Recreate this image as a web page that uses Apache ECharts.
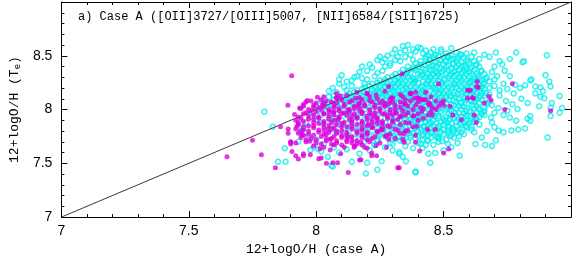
<!DOCTYPE html>
<html><head><meta charset="utf-8">
<script src="https://cdn.jsdelivr.net/npm/echarts@6/dist/echarts.min.js"></script>
<style>html,body{margin:0;padding:0;background:#fff}#c{width:574px;height:261px}</style>
</head><body><div id="c"></div>
<script>
// Axis ticks / labels
const xTicks = [7, 7.5, 8, 8.5];
const yTicks = [7, 7.5, 8, 8.5];
const titleText = 'a) Case A ([OII]3727/[OIII]5007, [NII]6584/[SII]6725)';
const xName = '12+logO/H (case A)';
const yName = '12+logO/H (T{sub|e})';
const oneToOne = [[7, 7], [9, 9]];

// Cyan open circles: dense core
const cyanCore = [
[8.45,8.53],[8.47,8.51],[8.49,8.54],[8.51,8.52],[8.53,8.50],[8.55,8.53],[8.57,8.51],[8.59,8.52],
[8.43,8.49],[8.46,8.48],[8.48,8.50],[8.50,8.48],[8.52,8.49],[8.54,8.47],[8.56,8.50],[8.58,8.48],[8.61,8.49],
[8.41,8.45],[8.43,8.47],[8.45,8.46],[8.47,8.44],[8.49,8.46],[8.51,8.45],[8.53,8.47],[8.55,8.45],[8.57,8.44],[8.59,8.46],[8.62,8.45],
[8.39,8.43],[8.41,8.42],[8.44,8.43],[8.46,8.41],[8.48,8.43],[8.50,8.42],[8.52,8.41],[8.54,8.43],[8.56,8.42],[8.58,8.41],[8.60,8.43],[8.63,8.42],
[8.36,8.40],[8.38,8.39],[8.40,8.40],[8.42,8.38],[8.45,8.40],[8.47,8.39],[8.49,8.38],[8.51,8.40],[8.53,8.38],[8.55,8.39],[8.57,8.40],[8.59,8.38],[8.61,8.39],[8.64,8.40],
[8.34,8.37],[8.36,8.36],[8.39,8.37],[8.41,8.35],[8.43,8.37],[8.45,8.36],[8.47,8.35],[8.50,8.37],[8.52,8.36],[8.54,8.35],[8.56,8.37],[8.58,8.36],[8.60,8.35],[8.62,8.37],[8.65,8.36],
[8.31,8.33],[8.33,8.34],[8.35,8.32],[8.37,8.34],[8.40,8.33],[8.42,8.32],[8.44,8.34],[8.46,8.33],[8.48,8.32],[8.51,8.34],[8.53,8.33],[8.55,8.32],[8.57,8.34],[8.59,8.33],[8.61,8.32],[8.63,8.34],[8.66,8.33],
[8.28,8.30],[8.30,8.31],[8.32,8.29],[8.34,8.31],[8.36,8.30],[8.38,8.29],[8.41,8.31],[8.43,8.30],[8.45,8.29],[8.47,8.31],[8.49,8.30],[8.52,8.29],[8.54,8.31],[8.56,8.30],[8.58,8.29],[8.60,8.31],[8.62,8.30],[8.64,8.29],[8.67,8.30],
[8.25,8.27],[8.27,8.28],[8.29,8.26],[8.31,8.28],[8.33,8.27],[8.35,8.26],[8.37,8.28],[8.39,8.27],[8.42,8.26],[8.44,8.28],[8.46,8.27],[8.48,8.26],[8.50,8.28],[8.53,8.27],[8.55,8.26],[8.57,8.28],[8.59,8.27],[8.61,8.26],[8.63,8.28],[8.65,8.27],[8.68,8.26],
[8.22,8.24],[8.24,8.25],[8.26,8.23],[8.28,8.25],[8.30,8.24],[8.32,8.23],[8.34,8.25],[8.36,8.24],[8.38,8.23],[8.40,8.25],[8.43,8.24],[8.45,8.23],[8.47,8.25],[8.49,8.24],[8.51,8.23],[8.54,8.25],[8.56,8.24],[8.58,8.23],[8.60,8.25],[8.62,8.24],[8.64,8.23],[8.66,8.25],
[8.19,8.21],[8.21,8.22],[8.23,8.20],[8.25,8.22],[8.27,8.21],[8.29,8.20],[8.31,8.22],[8.33,8.21],[8.35,8.20],[8.37,8.22],[8.39,8.21],[8.41,8.20],[8.44,8.22],[8.46,8.21],[8.48,8.20],[8.50,8.22],[8.52,8.21],[8.55,8.20],[8.57,8.22],[8.59,8.21],[8.61,8.20],[8.63,8.22],[8.65,8.21],[8.68,8.20],
[8.16,8.18],[8.18,8.19],[8.20,8.17],[8.22,8.19],[8.24,8.18],[8.26,8.17],[8.28,8.19],[8.30,8.18],[8.32,8.17],[8.34,8.19],[8.36,8.18],[8.38,8.17],[8.40,8.19],[8.42,8.18],[8.45,8.17],[8.47,8.19],[8.49,8.18],[8.51,8.17],[8.53,8.19],[8.56,8.18],[8.58,8.17],[8.60,8.19],[8.62,8.18],[8.64,8.17],[8.66,8.19],
[8.13,8.15],[8.15,8.16],[8.17,8.14],[8.19,8.16],[8.21,8.15],[8.23,8.14],[8.25,8.16],[8.27,8.15],[8.29,8.14],[8.31,8.16],[8.33,8.15],[8.35,8.14],[8.37,8.16],[8.39,8.15],[8.41,8.14],[8.43,8.16],[8.46,8.15],[8.48,8.14],[8.50,8.16],[8.52,8.15],[8.54,8.14],[8.57,8.16],[8.59,8.15],[8.61,8.14],[8.63,8.16],[8.65,8.15],[8.68,8.14],
[8.10,8.12],[8.12,8.13],[8.14,8.11],[8.16,8.13],[8.18,8.12],[8.20,8.11],[8.22,8.13],[8.24,8.12],[8.26,8.11],[8.28,8.13],[8.30,8.12],[8.32,8.11],[8.34,8.13],[8.36,8.12],[8.38,8.11],[8.40,8.13],[8.42,8.12],[8.44,8.11],[8.47,8.13],[8.49,8.12],[8.51,8.11],[8.53,8.13],[8.55,8.12],[8.58,8.11],[8.60,8.13],[8.62,8.12],[8.64,8.11],[8.66,8.13],
[8.07,8.09],[8.09,8.10],[8.11,8.08],[8.13,8.10],[8.15,8.09],[8.17,8.08],[8.19,8.10],[8.21,8.09],[8.23,8.08],[8.25,8.10],[8.27,8.09],[8.29,8.08],[8.31,8.10],[8.33,8.09],[8.35,8.08],[8.37,8.10],[8.39,8.09],[8.41,8.08],[8.43,8.10],[8.45,8.09],[8.48,8.08],[8.50,8.10],[8.52,8.09],[8.54,8.08],[8.56,8.10],[8.59,8.09],[8.61,8.08],[8.63,8.10],[8.65,8.09],[8.68,8.08],
[8.05,8.06],[8.08,8.07],[8.10,8.05],[8.12,8.07],[8.14,8.06],[8.16,8.05],[8.18,8.07],[8.20,8.06],[8.22,8.05],[8.24,8.07],[8.26,8.06],[8.28,8.05],[8.30,8.07],[8.32,8.06],[8.34,8.05],[8.36,8.07],[8.38,8.06],[8.40,8.05],[8.42,8.07],[8.44,8.06],[8.46,8.05],[8.49,8.07],[8.51,8.06],[8.53,8.05],[8.55,8.07],[8.57,8.06],[8.60,8.05],[8.62,8.07],[8.64,8.06],[8.67,8.05],
[8.03,8.03],[8.06,8.04],[8.09,8.02],[8.13,8.04],[8.17,8.03],[8.21,8.02],[8.25,8.04],[8.29,8.03],[8.32,8.02],[8.35,8.04],[8.37,8.03],[8.39,8.02],[8.41,8.04],[8.43,8.03],[8.45,8.02],[8.47,8.04],[8.50,8.03],[8.52,8.02],[8.54,8.04],[8.56,8.03],[8.58,8.02],[8.61,8.04],[8.63,8.03],[8.66,8.02],
[8.01,8.00],[8.05,8.01],[8.11,7.99],[8.15,8.01],[8.19,8.00],[8.24,7.99],[8.28,8.01],[8.31,8.00],[8.34,7.99],[8.36,8.01],[8.38,8.00],[8.40,7.99],[8.42,8.01],[8.44,8.00],[8.46,7.99],[8.48,8.01],[8.51,8.00],[8.53,7.99],[8.55,8.01],[8.57,8.00],[8.59,7.99],[8.62,8.01],[8.64,8.00],[8.66,7.99],
[7.99,7.97],[8.04,7.98],[8.08,7.96],[8.13,7.98],[8.18,7.97],[8.22,7.96],[8.26,7.98],[8.30,7.97],[8.33,7.96],[8.35,7.98],[8.37,7.97],[8.39,7.96],[8.41,7.98],[8.43,7.97],[8.45,7.96],[8.47,7.98],[8.49,7.97],[8.52,7.96],[8.54,7.98],[8.56,7.97],[8.58,7.96],[8.60,7.98],[8.63,7.97],[8.65,7.96],
[7.98,7.94],[8.02,7.95],[8.07,7.93],[8.12,7.95],[8.16,7.94],[8.20,7.93],[8.24,7.95],[8.28,7.94],[8.31,7.93],[8.34,7.95],[8.36,7.94],[8.38,7.93],[8.40,7.95],[8.42,7.94],[8.44,7.93],[8.46,7.95],[8.48,7.94],[8.51,7.93],[8.53,7.95],[8.55,7.94],[8.57,7.93],[8.59,7.95],[8.62,7.94],[8.64,7.93],
[8.00,7.91],[8.05,7.92],[8.10,7.90],[8.14,7.92],[8.19,7.91],[8.23,7.90],[8.27,7.92],[8.30,7.91],[8.33,7.90],[8.35,7.92],[8.37,7.91],[8.40,7.90],[8.42,7.92],[8.44,7.91],[8.46,7.90],[8.48,7.92],[8.50,7.91],[8.52,7.90],[8.54,7.92],[8.56,7.91],[8.59,7.90],[8.61,7.92],[8.63,7.91],
[8.02,7.88],[8.07,7.89],[8.12,7.87],[8.17,7.89],[8.21,7.88],[8.25,7.87],[8.29,7.89],[8.32,7.88],[8.34,7.87],[8.36,7.89],[8.39,7.88],[8.41,7.87],[8.43,7.89],[8.45,7.88],[8.47,7.87],[8.49,7.89],[8.51,7.88],[8.53,7.87],[8.55,7.89],[8.58,7.88],[8.60,7.87],[8.62,7.89],
[8.04,7.85],[8.09,7.86],[8.14,7.84],[8.18,7.86],[8.22,7.85],[8.26,7.84],[8.30,7.86],[8.33,7.85],[8.35,7.84],[8.38,7.86],[8.40,7.85],[8.42,7.84],[8.44,7.86],[8.46,7.85],[8.48,7.84],[8.50,7.86],[8.52,7.85],[8.55,7.84],[8.57,7.86],[8.59,7.85],[8.61,7.84],
[8.06,7.82],[8.11,7.83],[8.16,7.81],[8.20,7.83],[8.24,7.82],[8.28,7.81],[8.31,7.83],[8.34,7.82],[8.37,7.81],[8.39,7.83],[8.41,7.82],[8.43,7.81],[8.45,7.83],[8.48,7.82],[8.50,7.81],[8.52,7.83],[8.54,7.82],[8.56,7.81],[8.59,7.83],
[8.08,7.79],[8.13,7.80],[8.18,7.78],[8.22,7.80],[8.26,7.79],[8.30,7.78],[8.33,7.80],[8.36,7.79],[8.38,7.78],[8.40,7.80],[8.43,7.79],[8.45,7.78],[8.47,7.80],[8.49,7.79],[8.52,7.78],[8.54,7.80],[8.57,7.79],
[8.12,7.76],[8.17,7.77],[8.21,7.75],[8.25,7.77],[8.29,7.76],[8.32,7.75],[8.35,7.77],[8.37,7.76],[8.40,7.75],[8.42,7.77],[8.44,7.76],[8.47,7.75],[8.50,7.77],[8.53,7.76],[8.56,7.75],
[8.15,7.73],[8.20,7.74],[8.24,7.72],[8.28,7.74],[8.31,7.73],[8.34,7.72],[8.37,7.74],[8.39,7.73],[8.42,7.72],[8.45,7.74],[8.48,7.73],[8.51,7.72],[8.54,7.74],
[8.19,7.70],[8.24,7.71],[8.29,7.69],[8.33,7.71],[8.36,7.70],[8.40,7.69],[8.44,7.71],[8.48,7.70],
[8.23,7.67],[8.30,7.68],[8.35,7.66],[8.41,7.68],[8.46,7.67]
];
// Cyan points filling gaps of the core
const cyanFill = [
[8.465,8.505],[8.515,8.495],[8.565,8.515],[8.445,8.465],[8.505,8.455],[8.555,8.475],[8.595,8.445],
[8.425,8.415],[8.475,8.405],[8.535,8.425],[8.585,8.395],[8.625,8.415],[8.385,8.385],[8.445,8.375],[8.495,8.355],[8.545,8.365],[8.605,8.375],[8.645,8.355],
[8.355,8.345],[8.415,8.325],[8.475,8.335],[8.525,8.315],[8.575,8.345],[8.635,8.315],[8.325,8.305],[8.385,8.285],[8.445,8.305],[8.505,8.285],[8.565,8.295],[8.615,8.275],[8.665,8.285],
[8.265,8.255],[8.325,8.245],[8.385,8.255],[8.435,8.235],[8.495,8.245],[8.545,8.235],[8.605,8.255],[8.655,8.235],[8.235,8.205],[8.295,8.215],[8.355,8.195],[8.415,8.215],[8.465,8.195],[8.535,8.205],[8.585,8.185],[8.645,8.205],
[8.185,8.165],[8.245,8.155],[8.305,8.165],[8.365,8.145],[8.425,8.165],[8.485,8.155],[8.555,8.145],[8.615,8.165],[8.665,8.155],[8.135,8.125],[8.205,8.115],[8.275,8.125],[8.345,8.105],[8.405,8.125],[8.465,8.105],[8.525,8.125],[8.585,8.105],[8.645,8.125],
[8.105,8.085],[8.165,8.075],[8.235,8.085],[8.305,8.065],[8.375,8.085],[8.435,8.075],[8.495,8.085],[8.565,8.065],[8.625,8.085],[8.675,8.065],
[8.335,8.035],[8.395,8.015],[8.455,8.035],[8.515,8.015],[8.575,8.035],[8.635,8.015],[8.365,7.985],[8.425,7.975],[8.485,7.985],[8.545,7.965],[8.605,7.985],[8.655,7.975],
[8.345,7.945],[8.405,7.925],[8.465,7.935],[8.525,7.915],[8.585,7.935],[8.625,7.915],[8.385,7.895],[8.445,7.875],[8.505,7.895],[8.565,7.875],[8.605,7.895],
[8.365,7.855],[8.425,7.835],[8.485,7.845],[8.535,7.825],[8.585,7.845],[8.395,7.805],[8.455,7.795],[8.515,7.805],[8.555,7.785],[8.415,7.755],[8.475,7.745],[8.525,7.755],[8.435,7.715],[8.495,7.705],
[8.255,7.875],[8.275,7.835],[8.295,7.785],[8.245,7.745],[8.325,7.745],[8.195,7.805]
];
// Cyan points above the 1:1 line
const cyanUpper = [
[8.02,8.08],[8.03,8.06],[8.05,8.12],[8.065,8.20],[8.05,8.17],[8.08,8.16],[8.09,8.24],[8.10,8.32],[8.09,8.28],[8.12,8.26],
[8.11,8.21],[8.14,8.22],[8.15,8.30],[8.16,8.31],[8.18,8.29],[8.17,8.35],[8.18,8.40],[8.20,8.36],[8.21,8.42],[8.22,8.39],
[8.24,8.46],[8.25,8.49],[8.26,8.44],[8.27,8.47],[8.28,8.50],[8.29,8.43],[8.30,8.52],[8.31,8.56],[8.32,8.49],[8.33,8.53],
[8.34,8.59],[8.35,8.55],[8.36,8.60],[8.37,8.51],[8.38,8.56],[8.39,8.54],[8.40,8.58],[8.41,8.57],[8.42,8.52],[8.43,8.55],
[8.44,8.50],[8.12,8.18],[8.19,8.24],[8.23,8.31],[8.26,8.36],[8.29,8.41],[8.33,8.45],[8.46,8.56],[8.49,8.56],[8.53,8.57],
[8.14,8.27],[8.20,8.28],[8.24,8.34],[8.27,8.40],[8.31,8.46],[8.35,8.49],[8.38,8.46],[8.07,8.13],[8.00,8.03]
];
// Cyan sparse outskirts
const cyanOuter = [
[8.62,8.53],[8.68,8.49],[8.705,8.53],[8.785,8.53],[8.815,8.45],[8.905,8.505],[8.72,8.45],[8.74,8.36],[8.70,8.40],[8.71,8.31],
[8.76,8.31],[8.735,8.24],[8.84,8.27],[8.82,8.225],[8.86,8.215],[8.915,8.26],[8.92,8.215],[8.86,8.15],[8.89,8.17],[8.895,8.105],
[8.925,8.06],[8.955,8.125],[8.805,8.10],[8.745,8.08],[8.79,8.005],[8.875,8.03],[8.92,8.015],[8.955,7.97],[8.715,8.015],[8.775,8.15],
[8.80,8.20],[8.72,8.13],[8.845,8.28],[8.88,8.205],[8.965,8.015],[8.81,8.44],[8.84,7.94],[8.70,8.22],[8.72,8.18],[8.69,8.35],
[8.73,8.42],[8.76,8.47],[8.66,8.51],[8.64,8.47],[8.70,8.28],[8.69,8.04],[8.70,7.97],[8.75,7.99],[8.77,8.05],[8.83,8.06],
[8.78,8.23],[8.75,8.19],[8.88,8.12],[8.90,8.32],
[8.908,7.74],[8.625,7.68],[8.663,7.67],[8.69,7.66],[8.705,7.715],[8.735,7.79],[8.766,7.806],[8.793,7.815],[8.82,7.824],[8.84,7.897],
[8.83,7.915],[8.785,7.897],[8.76,7.925],[8.735,7.95],[8.686,7.925],[8.69,7.88],[8.70,7.835],[8.716,7.806],[8.65,7.74],[8.62,7.79],
[8.61,7.815],[8.58,7.77],[8.555,7.69],[8.517,7.68],[8.48,7.74],[8.92,7.94],[8.64,7.86],[8.67,7.80],[8.66,7.95],
[8.448,7.505],[8.467,7.597],[8.563,7.57],[8.39,7.425],[8.352,7.52],[8.326,7.59],[8.44,7.59],[8.195,7.405],[8.24,7.44],[8.257,7.52],
[8.20,7.505],[8.326,7.606],[8.34,7.56],[8.39,7.415],[8.418,7.642],[8.43,7.67],[8.23,7.67],[8.065,7.47],[8.06,7.48],[8.14,7.515],
[8.17,7.59],[8.27,7.65],[8.30,7.62],[8.38,7.64],[8.50,7.62],[8.53,7.65],[8.12,7.63],[8.09,7.60],[8.21,7.62],
[7.977,7.624],[7.85,7.515],[7.88,7.515],[7.877,7.64],[7.797,7.98],[7.83,7.84],[7.95,7.835],[8.008,7.633],[8.02,7.61],[8.046,7.56],
[7.99,7.65],[7.93,7.70],[7.97,7.76],[7.94,7.80],[7.96,7.88],[8.00,7.72],[8.03,7.68],[8.07,7.65]
];
// Magenta filled points: main clump
const magentaCore = [
[8.08,8.15],[8.16,8.16],[8.20,8.15],[8.27,8.17],[8.33,8.14],[8.37,8.15],[8.43,8.16],
[8.03,8.12],[8.08,8.11],[8.12,8.13],[8.17,8.11],[8.21,8.12],[8.24,8.10],[8.30,8.11],[8.34,8.12],[8.40,8.11],[8.45,8.12],
[7.98,8.08],[8.02,8.09],[8.06,8.07],[8.10,8.09],[8.14,8.08],[8.18,8.09],[8.22,8.07],[8.26,8.08],[8.29,8.09],[8.33,8.07],[8.37,8.08],[8.42,8.09],[8.47,8.08],
[7.95,8.05],[7.99,8.04],[8.03,8.06],[8.07,8.04],[8.11,8.05],[8.15,8.03],[8.19,8.05],[8.23,8.04],[8.27,8.06],[8.31,8.04],[8.35,8.05],[8.39,8.04],[8.44,8.05],[8.49,8.06],
[7.94,8.01],[7.97,8.00],[8.01,8.02],[8.05,8.00],[8.09,8.01],[8.13,8.00],[8.17,8.02],[8.21,8.00],[8.25,8.01],[8.29,8.00],[8.33,8.02],[8.38,8.00],[8.42,8.01],[8.47,8.00],
[7.96,7.97],[8.00,7.98],[8.03,7.96],[8.07,7.98],[8.11,7.97],[8.15,7.96],[8.18,7.98],[8.23,7.97],[8.27,7.96],[8.31,7.98],[8.36,7.97],[8.40,7.96],[8.45,7.98],
[7.93,7.93],[7.97,7.94],[8.01,7.92],[8.05,7.94],[8.09,7.93],[8.12,7.95],[8.16,7.93],[8.20,7.94],[8.24,7.92],[8.28,7.94],[8.33,7.93],[8.38,7.94],[8.42,7.92],
[7.92,7.90],[7.95,7.89],[7.99,7.91],[8.03,7.89],[8.07,7.90],[8.11,7.88],[8.14,7.90],[8.18,7.89],[8.22,7.91],[8.26,7.89],[8.30,7.90],[8.35,7.88],[8.40,7.90],
[7.93,7.86],[7.97,7.85],[8.01,7.87],[8.05,7.85],[8.08,7.86],[8.12,7.84],[8.16,7.86],[8.20,7.85],[8.24,7.87],[8.28,7.85],[8.33,7.86],[8.38,7.84],
[7.92,7.82],[7.95,7.81],[7.99,7.83],[8.03,7.81],[8.06,7.82],[8.10,7.80],[8.14,7.82],[8.18,7.81],[8.22,7.83],[8.26,7.81],[8.31,7.82],[8.35,7.80],
[7.93,7.78],[7.97,7.77],[8.01,7.79],[8.04,7.77],[8.08,7.78],[8.12,7.76],[8.16,7.78],[8.20,7.77],[8.24,7.79],[8.29,7.77],[8.33,7.78],
[7.94,7.74],[7.98,7.73],[8.02,7.75],[8.06,7.73],[8.10,7.74],[8.14,7.72],[8.18,7.74],[8.22,7.73],[8.27,7.75],[8.31,7.73],
[7.96,7.70],[8.00,7.69],[8.04,7.71],[8.08,7.69],[8.12,7.70],[8.16,7.68],[8.21,7.70],[8.25,7.69],
[7.99,7.66],[8.03,7.65],[8.07,7.67],[8.11,7.65],[8.15,7.66],[8.20,7.64],
[7.96,8.07],[8.00,8.06],[8.04,8.08],[8.08,8.06],[8.13,8.07],[8.17,8.06],[8.21,8.08],[8.25,8.06],[8.30,8.07],[8.35,8.09],[8.40,8.07],
[7.95,8.03],[7.99,8.02],[8.03,8.03],[8.07,8.02],[8.11,8.03],[8.15,8.01],[8.19,8.03],[8.23,8.02],[8.27,8.03],[8.31,8.01],[8.36,8.03],[8.41,8.02],
[7.98,7.99],[8.02,8.00],[8.05,7.98],[8.09,7.99],[8.13,7.98],[8.17,7.99],[8.21,7.97],[8.25,7.99],[8.29,7.97],[8.34,7.99],
[7.95,7.96],[7.99,7.95],[8.03,7.96],[8.07,7.95],[8.10,7.96],[8.14,7.94],[8.18,7.96],[8.22,7.95],[8.26,7.96],[8.30,7.95],[8.35,7.95],
[7.94,7.92],[7.97,7.91],[8.01,7.93],[8.05,7.91],[8.09,7.92],[8.13,7.91],[8.16,7.92],[8.20,7.91],[8.24,7.90],[8.28,7.92],[8.32,7.91],
[7.93,7.88],[7.99,7.88],[8.03,7.87],[8.06,7.88],[8.10,7.87],[8.14,7.88],[8.18,7.87],[8.22,7.88],[8.26,7.87],[8.30,7.88],
[7.95,7.84],[7.99,7.85],[8.03,7.84],[8.07,7.83],[8.10,7.84],[8.14,7.85],[8.18,7.83],[8.22,7.84],[8.26,7.83],[8.29,7.84],
[7.94,7.80],[7.97,7.80],[8.01,7.81],[8.05,7.79],[8.08,7.80],[8.12,7.79],[8.16,7.80],[8.20,7.79],[8.24,7.80],
[7.95,7.76],[7.99,7.76],[8.03,7.77],[8.07,7.75],[8.10,7.76],[8.14,7.75],[8.18,7.76],[8.23,7.75],
[7.96,7.72],[8.00,7.72],[8.04,7.73],[8.08,7.71],[8.12,7.72],[8.16,7.71],[8.20,7.72],
[8.02,7.68],[8.06,7.68],[8.10,7.67],[8.14,7.69],[8.18,7.67]
];
// Magenta points between the clump rows
const magentaMid = [
[7.915,7.955],[7.935,8.015],[7.965,8.085],[8.005,8.115],[7.925,7.845],[7.945,7.765],[7.975,7.705],[8.015,7.635],[8.055,7.725],[8.045,7.815],
[8.085,7.905],[8.125,7.995],[8.165,8.045],[8.205,7.865],[8.235,7.935],[8.255,7.815],[8.285,7.725],[8.315,7.965],[8.345,8.055],[8.365,7.875],
[8.125,7.745],[8.175,7.695],[8.095,8.125],[8.155,8.105],[8.235,8.135],[8.285,8.055],[8.385,8.105],[8.415,7.985],[8.395,7.845],[8.345,7.775],
[8.055,7.625],[8.235,7.665],[8.025,8.045],[8.065,7.975]
];
// Magenta scattered points
const magentaOuter = [
[7.904,8.315],[7.889,8.04],[7.86,7.84],[7.89,7.82],[7.89,7.78],[7.75,7.715],[7.90,7.68],[7.785,7.58],[7.65,7.56],[7.84,7.46],
[7.905,7.61],[7.92,7.57],[7.93,7.54],[7.90,7.70],[7.92,7.69],[8.04,7.50],[8.126,7.415],[8.17,7.53],[8.326,7.46],[8.337,8.33],
[8.37,8.15],[8.41,8.09],[8.43,8.09],[8.39,8.16],[8.20,8.15],[8.08,8.11],[8.74,8.0],[8.77,8.24],[8.92,7.99],
[8.284,8.215],[8.295,8.11],[8.268,8.04],[8.372,8.15],[8.40,8.105],[8.42,8.09],[8.448,8.04],[8.456,8.015],[8.48,8.03],[8.50,8.04],
[8.525,8.03],[8.594,8.18],[8.63,8.215],[8.632,8.26],[8.613,8.11],[8.48,8.24],[8.678,8.124],[8.686,8.088],[8.66,8.06],
[8.333,7.942],[8.383,7.942],[8.44,7.95],[8.57,7.906],[8.62,7.95],[8.628,7.88],[8.636,8.205],[8.605,8.18],[8.594,8.106],[8.617,8.106],
[8.444,8.06],[8.536,7.95],[8.456,7.95],[8.50,8.08],
[8.276,7.76],[8.34,7.724],[8.345,7.697],[8.39,7.76],[8.39,7.697],[8.406,7.615],[8.32,7.46],[8.50,7.597],[8.52,7.633],[8.32,7.806],
[8.36,7.806],[8.437,7.815],[8.467,7.815],
[8.176,7.533],[8.065,7.506],[8.084,7.506],[8.02,7.55],[7.95,7.57],[8.096,7.588],[8.218,7.57],[8.237,7.57],[8.218,7.597],[8.276,7.65],
[8.149,7.65],[8.19,7.65],[7.90,7.697],[8.01,7.542],[7.977,7.58],[7.95,7.588]
];

const FONT_LAB = 'Liberation Sans';
const FONT_TXT = 'Liberation Mono';

function axisCommon(extra) {
  return Object.assign({
    type: 'value', min: 7, max: 9, interval: 0.5,
    axisLine: { show: true, onZero: false, lineStyle: { color: '#000', width: 1 } },
    axisTick: { show: true, inside: true, length: 6, lineStyle: { color: '#000' } },
    minorTick: { show: true, splitNumber: 5, length: 3, lineStyle: { color: '#000' } },
    splitLine: { show: false }, minorSplitLine: { show: false }
  }, extra);
}
const fmt = v => (xTicks.indexOf(v) >= 0 ? String(v) : '');
const fmtY = v => (yTicks.indexOf(v) >= 0 ? String(v) : '');

const chart = echarts.init(document.getElementById('c'), null, { renderer: 'canvas' });
chart.setOption({
  animation: false,
  backgroundColor: '#fff',
  title: { text: titleText, left: 78, top: 11, padding: 0,
    textStyle: { fontFamily: FONT_TXT, fontSize: 12, fontWeight: 'normal', color: '#000' } },
  grid: { left: 52, top: 2, width: 521, height: 220 },
  xAxis: [
    axisCommon({ position: 'bottom', name: xName, nameLocation: 'middle', nameGap: 22,
      nameTextStyle: { fontFamily: FONT_TXT, fontSize: 13, color: '#000' },
      axisLabel: { show: true, margin: 7, formatter: fmt, fontFamily: FONT_LAB, fontSize: 14, color: '#000',
        showMaxLabel: true, showMinLabel: true } }),
    axisCommon({ position: 'top', axisLabel: { show: false } })
  ],
  yAxis: [
    axisCommon({ position: 'left', name: yName, nameLocation: 'middle', nameGap: 34,
      nameTextStyle: { fontFamily: FONT_TXT, fontSize: 13, color: '#000',
        rich: { sub: { fontFamily: FONT_TXT, fontSize: 9, color: '#000', verticalAlign: 'bottom', padding: [6, 0, 0, 0] } } },
      axisLabel: { show: true, margin: 9, formatter: fmtY, fontFamily: FONT_LAB, fontSize: 14, color: '#000',
        showMaxLabel: true, showMinLabel: true } }),
    axisCommon({ position: 'right', axisLabel: { show: false } })
  ],
  series: [
    { type: 'scatter', name: 'cyan', data: cyanCore.concat(cyanFill, cyanUpper, cyanOuter), symbol: 'circle', symbolSize: 5,
      itemStyle: { color: 'rgba(0,0,0,0)', borderColor: '#08ecec', borderWidth: 1.5 }, z: 2, silent: true },
    { type: 'line', data: oneToOne, showSymbol: false, symbol: 'none',
      lineStyle: { color: '#3a3a3a', width: 1 }, z: 3, silent: true },
    { type: 'scatter', name: 'magenta', data: magentaCore.concat(magentaMid, magentaOuter), symbol: 'circle', symbolSize: 5,
      itemStyle: { color: '#dc00dc' }, z: 4, silent: true }
  ]
});
</script></body></html>
